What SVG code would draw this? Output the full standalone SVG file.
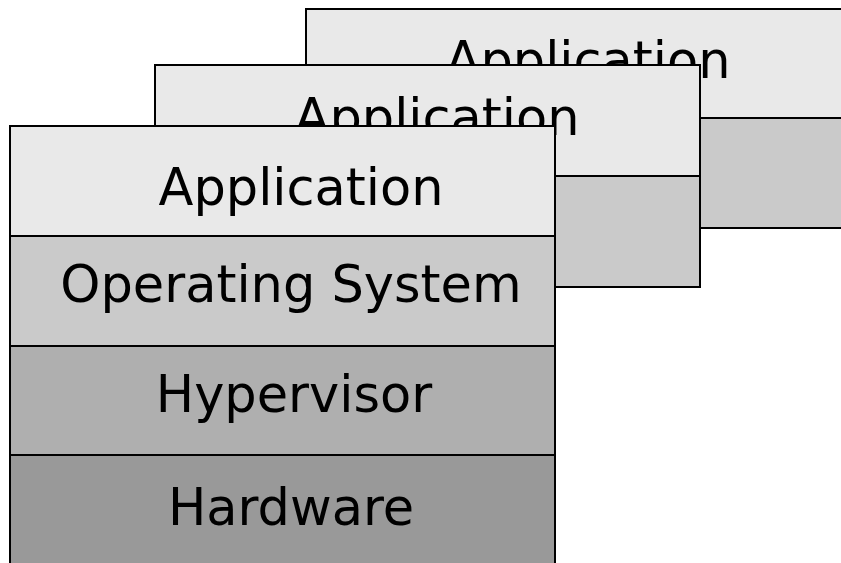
<svg xmlns="http://www.w3.org/2000/svg" width="841" height="563" viewBox="0 0 841 563">
  <style>
    .layer { stroke: #000; stroke-width: 2; }
    .app { fill: #e9e9e9; }
    .os { fill: #cacaca; }
    .hyp { fill: #afafaf; }
    .hw { fill: #999999; }
    text { font-family: "DejaVu Sans", "Noto Sans", sans-serif; font-size: 51px; fill: #000; text-anchor: middle; }
  </style>
  <rect x="0" y="0" width="841" height="563" fill="#fff"/>
  <g id="stack-back">
    <g id="back-os"><rect class="layer os" x="306" y="118" width="545" height="110"/></g>
    <g id="back-app"><rect class="layer app" x="306" y="9" width="545" height="109"/><text x="588" y="78">Application</text></g>
  </g>
  <g id="stack-middle">
    <g id="middle-os"><rect class="layer os" x="155" y="176" width="545" height="111"/></g>
    <g id="middle-app"><rect class="layer app" x="155" y="65" width="545" height="111"/><text x="437" y="135">Application</text></g>
  </g>
  <g id="stack-front">
    <g id="front-hw"><rect class="layer hw" x="10" y="455" width="545" height="120"/><text x="291" y="525">Hardware</text></g>
    <g id="front-hyp"><rect class="layer hyp" x="10" y="346" width="545" height="109"/><text x="294" y="412">Hypervisor</text></g>
    <g id="front-os"><rect class="layer os" x="10" y="236" width="545" height="110"/><text x="291" y="302">Operating System</text></g>
    <g id="front-app"><rect class="layer app" x="10" y="126" width="545" height="110"/><text x="301" y="205">Application</text></g>
  </g>
  <g id="connectors"/>
</svg>
